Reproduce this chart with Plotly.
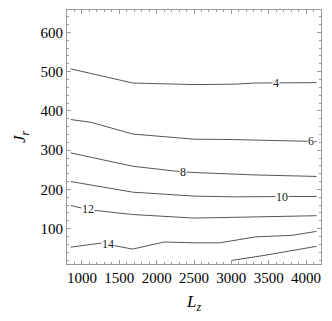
"""Contour levels of J_r against L_z, drawn as labelled lines."""

import numpy as np
import plotly.graph_objects as go

# contour lines (L_z, J_r)
LEVEL_4_X = [850, 1680, 2500, 3030, 3320, 4140]
LEVEL_4_Y = [507, 471, 467, 468, 471, 472]

LEVEL_6_X = [850, 1120, 1680, 2500, 3030, 3970, 4140]
LEVEL_6_Y = [378, 371, 341, 328, 327, 323, 322]

LEVEL_8_X = [850, 1680, 2280, 2500, 3300, 4140]
LEVEL_8_Y = [293, 259, 246, 243, 237, 233]

LEVEL_10_X = [850, 1680, 2500, 3030, 3750, 4140]
LEVEL_10_Y = [220, 193, 183, 181, 182, 182]

LEVEL_12_X = [850, 1100, 1680, 2500, 3340, 4140]
LEVEL_12_Y = [159, 148, 136, 127, 130, 133]

LEVEL_14_X = [850, 1250, 1680, 2100, 2500, 2850, 3320, 3810, 4140]
LEVEL_14_Y = [53, 63, 48, 66, 64, 64, 79, 83, 93]

LEVEL_16_X = [3000, 3410, 4140]
LEVEL_16_Y = [19, 31, 55]

# where along each line the level number sits
LABELS = ["4", "6", "8", "10", "12", "14"]
LABEL_X = [3600, 4066, 2357, 3678, 1076, 1343]

X_TICKS = [1000, 1500, 2000, 2500, 3000, 3500, 4000]
Y_TICKS = [100, 200, 300, 400, 500, 600]

LINE_COLOR = "#555555"
FRAME_COLOR = "#9a9a9a"
SERIF = "Liberation Serif, Times New Roman, DejaVu Serif, serif"

levels = [
    (LEVEL_4_X, LEVEL_4_Y),
    (LEVEL_6_X, LEVEL_6_Y),
    (LEVEL_8_X, LEVEL_8_Y),
    (LEVEL_10_X, LEVEL_10_Y),
    (LEVEL_12_X, LEVEL_12_Y),
    (LEVEL_14_X, LEVEL_14_Y),
    (LEVEL_16_X, LEVEL_16_Y),
]

fig = go.Figure()
for xs, ys in levels:
    fig.add_trace(
        go.Scatter(
            x=xs,
            y=ys,
            mode="lines",
            line=dict(color=LINE_COLOR, width=1),
            hoverinfo="skip",
            showlegend=False,
        )
    )

annotations = []
for (xs, ys), text, lx in zip(levels, LABELS, LABEL_X):
    annotations.append(
        dict(
            x=lx,
            y=float(np.interp(lx, xs, ys)),
            text=text,
            showarrow=False,
            bgcolor="white",
            borderpad=0,
            font=dict(family=SERIF, size=12, color="#222222"),
        )
    )

axis_common = dict(
    showgrid=False,
    zeroline=False,
    showline=True,
    linecolor=FRAME_COLOR,
    linewidth=1,
    mirror="allticks",
    ticks="inside",
    ticklen=4,
    tickcolor=FRAME_COLOR,
    tickfont=dict(family=SERIF, size=15, color="black"),
)

# the page body adds an 8px margin, so the figure is 8px smaller than the window
fig.update_layout(
    width=324,
    height=313,
    margin=dict(l=59, r=11, t=2, b=57),
    paper_bgcolor="white",
    plot_bgcolor="white",
    font=dict(family=SERIF),
    annotations=annotations,
    xaxis=dict(
        range=[800, 4200],
        tickvals=X_TICKS,
        minor=dict(dtick=100, tick0=0, ticks="inside", ticklen=2, tickcolor=FRAME_COLOR),
        title=dict(
            text="<i>L</i><sub><i>z</i></sub>",
            font=dict(family=SERIF, size=17, color="black"),
            standoff=10,
        ),
        **axis_common,
    ),
    yaxis=dict(
        range=[10, 657],
        tickvals=Y_TICKS,
        minor=dict(dtick=20, tick0=0, ticks="inside", ticklen=2, tickcolor=FRAME_COLOR),
        title=dict(
            text="<i>J</i><sub><i>r</i></sub>",
            font=dict(family=SERIF, size=17, color="black"),
            standoff=10,
        ),
        **axis_common,
    ),
)

fig.write_html("out.html")
